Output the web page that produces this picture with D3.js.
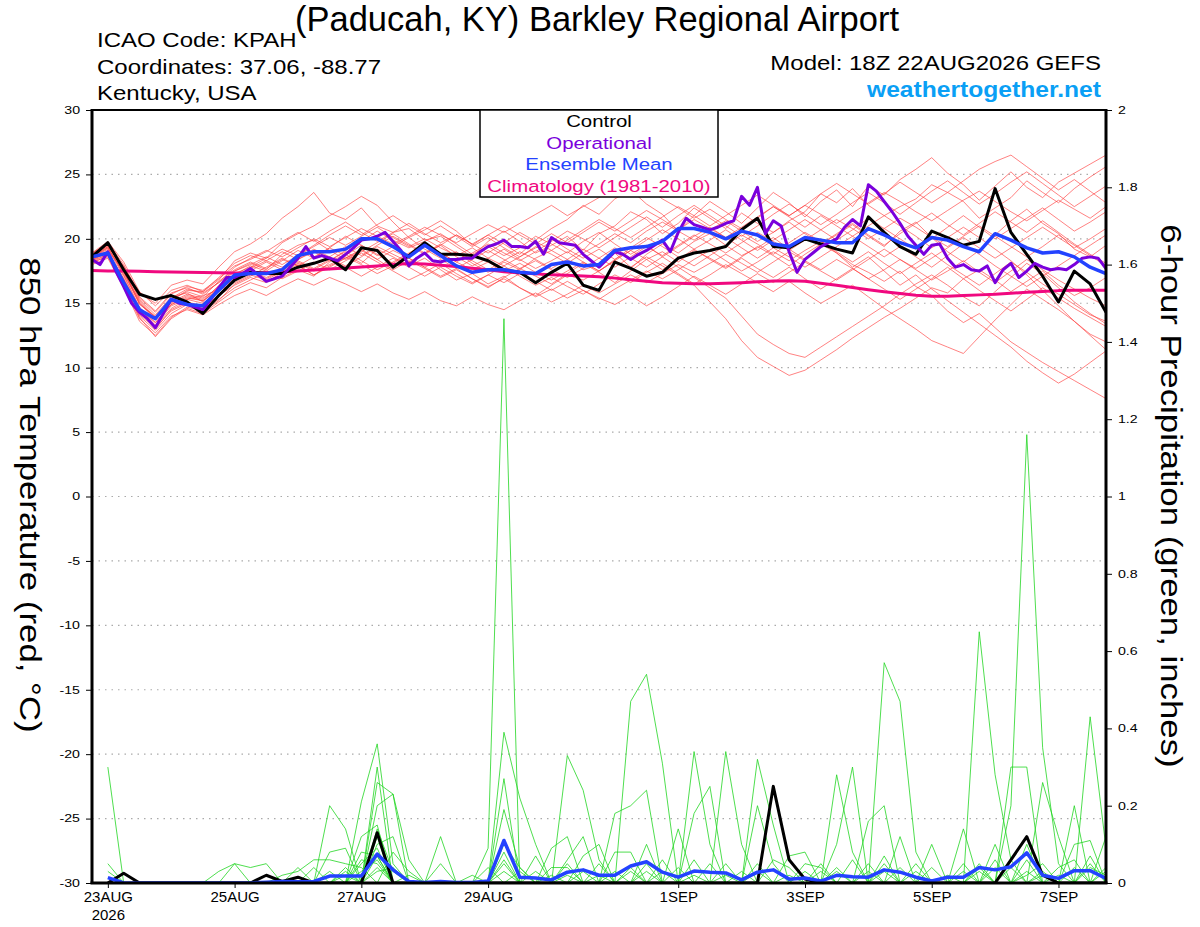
<!DOCTYPE html>
<html lang="en">
<head>
<meta charset="UTF-8">
<title>KPAH GEFS</title>
<script src="https://d3js.org/d3.v7.min.js"></script>
<style>
    body { margin: 0; background: #fff; }
    text { font-family: 'Liberation Sans', Arial, sans-serif; }
</style>
</head>
<body>
<script>

    // 6-hourly steps from 18Z 22AUG2026 (index 0) to 18Z 07SEP2026 (index 64)
    const startUTC = Date.UTC(2026, 7, 22, 18);

    const tickDates  = ['2026-08-23', '2026-08-25', '2026-08-27', '2026-08-29', '2026-09-01', '2026-09-03', '2026-09-05', '2026-09-07'];
    const tickLabels = ['23AUG', '25AUG', '27AUG', '29AUG', '1SEP', '3SEP', '5SEP', '7SEP'];
    const tempTicks  = [-30, -25, -20, -15, -10, -5, 0, 5, 10, 15, 20, 25, 30];
    const precipTicks = [0, 0.2, 0.4, 0.6, 0.8, 1, 1.2, 1.4, 1.6, 1.8, 2];

    const controlTemp = [18.6,19.7,17.6,15.7,15.3,15.6,15.1,14.2,15.6,16.8,17.4,17.3,17.3,17.8,18.1,18.5,17.6,19.3,19.1,17.8,
        18.7,19.7,18.8,18.8,18.7,18.3,17.6,17.4,16.6,17.4,18.1,16.4,16.0,18.2,17.7,17.1,17.4,18.5,18.9,19.1,
        19.4,20.7,21.6,19.4,19.3,20.0,19.6,19.2,18.9,21.7,20.5,19.4,18.8,20.6,20.1,19.5,19.8,23.9,20.5,18.8,
        17.1,15.1,17.5,16.5,14.3];

    const meanTemp = [18.6,18.9,16.6,14.5,13.8,15.3,14.9,14.8,16.0,17.2,17.3,17.3,17.6,18.7,19.0,19.0,19.2,20.0,20.0,19.4,
        18.6,19.5,18.7,17.9,17.4,17.6,17.6,17.4,17.3,18.0,18.2,17.9,18.0,19.1,19.3,19.4,19.8,20.8,20.8,20.5,
        20.0,20.6,20.3,19.6,19.4,20.1,19.9,19.7,19.7,20.8,20.3,19.7,19.3,20.1,19.9,19.4,19.0,20.4,19.9,19.3,
        18.9,19.0,18.6,17.8,17.3];

    const climTemp = [17.55,17.5,17.5,17.48,17.45,17.42,17.4,17.38,17.36,17.35,17.35,17.38,17.42,17.5,17.58,17.66,17.74,17.82,17.9,18.0,
        18.08,18.05,17.95,17.85,17.72,17.6,17.45,17.35,17.28,17.22,17.18,17.12,17.05,16.95,16.82,16.7,16.6,16.55,16.52,16.52,
        16.55,16.6,16.66,16.72,16.75,16.7,16.55,16.4,16.22,16.05,15.9,15.75,15.62,15.55,15.55,15.6,15.65,15.7,15.78,15.85,
        15.92,15.98,16.0,16.0,16.0];

    // operational run is 3-hourly (129 values)
    const operTemp = [18.4,18.0,19.0,17.5,16.3,15.0,14.3,13.8,13.1,14.2,15.3,15.0,14.9,14.7,14.5,15.3,16.2,17.0,17.0,17.3,
        17.7,17.2,16.7,16.9,17.1,17.8,18.5,19.4,18.5,18.7,18.5,18.3,18.8,19.3,19.9,20.0,20.2,20.5,19.8,19.1,
        17.9,18.5,18.9,18.3,18.2,18.4,18.4,18.5,18.5,19.0,19.4,19.6,19.9,19.4,19.4,19.3,19.8,18.8,20.1,19.7,
        19.6,19.5,18.8,18.3,17.8,18.4,19.0,18.8,18.4,18.8,19.1,19.5,19.9,19.0,20.5,21.6,21.1,20.9,20.7,20.9,
        21.2,21.4,23.3,22.6,24.0,20.4,21.4,21.0,19.0,17.4,18.4,18.9,19.4,19.7,20.0,20.9,21.5,21.0,24.2,23.7,
        22.9,22.1,21.2,20.2,19.5,18.8,19.5,19.6,18.5,17.8,18.0,17.6,17.5,17.9,16.6,17.6,18.1,17.0,17.5,18.1,
        17.8,17.6,17.7,17.6,18.0,18.5,18.6,18.5,17.7];

    // precipitation starts at index 1 (null at the analysis time)
    const controlPrecip = [null,0,0.025,0,0,0,0,0,0,0,0,0.02,0.004,0.015,0,0,0,0,0.13,0,
        0,0,0,0,0,0,0,0,0,0,0,0,0,0,0,0,0,0,0,0,
        0,0,0,0.25,0.06,0.01,0,0,0,0,0,0,0,0,0,0,0,0,0.06,0.12,
        0.02,0,0,0,0];

    const meanPrecip = [null,0.014,0,0,0,0,0,0,0,0,0,0.002,0.004,0.003,0.004,0.018,0.018,0.018,0.075,0.034,
        0.004,0.001,0.004,0.001,0.001,0.005,0.11,0.015,0.013,0.008,0.028,0.034,0.02,0.02,0.044,0.055,0.028,0.015,0.031,0.028,
        0.026,0.008,0.028,0.034,0.01,0.013,0.005,0.02,0.016,0.015,0.034,0.028,0.015,0.005,0.015,0.015,0.04,0.034,0.042,0.078,
        0.02,0.012,0.032,0.032,0.012];

    // ensemble members, 850 hPa temperature
    const ensT01 = [18.6,19.4,17.9,15.8,15.0,16.4,16.8,16.5,17.8,19.0,19.6,20.4,21.6,22.5,23.6,22.0,21.5,22.4,21.0,20.5,
        20.8,19.9,20.2,19.4,18.6,19.8,20.6,19.8,18.9,19.5,20.2,19.1,20.4,21.0,22.1,21.5,20.4,21.2,22.4,21.6,
        20.8,22.0,21.2,20.5,21.4,22.1,23.5,22.8,23.9,22.6,21.8,22.5,23.1,24.2,23.6,22.9,21.6,22.4,23.2,24.5,
        23.6,22.8,23.9,24.8,25.6];
    const ensT02 = [18.4,19.1,17.5,14.9,14.0,15.2,16.0,15.9,16.8,18.3,18.9,18.5,19.7,20.4,21.0,21.8,22.5,23.3,22.6,21.3,
        20.1,20.7,21.4,20.6,19.5,20.3,19.6,18.8,19.9,20.8,21.5,22.6,21.9,23.1,23.8,22.7,21.9,20.6,21.8,22.9,
        22.1,21.2,22.4,23.6,22.8,21.7,22.9,23.8,22.5,24.1,23.4,24.6,25.4,26.3,25.1,24.2,23.0,24.1,25.2,24.0,
        23.2,24.4,25.1,25.8,26.5];
    const ensT03 = [18.2,18.8,16.6,13.9,12.4,13.8,14.6,14.2,15.1,16.0,16.6,16.2,17.0,17.6,17.1,18.2,18.8,18.1,19.2,18.6,
        17.9,18.5,17.6,16.8,17.3,16.5,17.1,16.2,15.6,16.4,17.2,16.8,17.5,18.3,17.7,18.8,19.6,18.9,19.8,20.4,
        19.5,18.7,19.3,20.1,19.2,18.4,19.6,20.3,21.1,20.2,19.4,20.6,21.3,20.1,19.0,18.2,19.1,20.3,21.4,22.3,
        21.2,20.4,19.2,18.6,19.5];
    const ensT04 = [18.9,19.6,17.8,15.3,14.1,15.5,15.8,15.1,16.4,17.2,17.9,17.5,18.3,19.1,18.5,19.3,20.2,19.5,18.7,19.4,
        20.1,19.2,18.5,19.0,18.1,17.4,18.2,17.6,18.5,19.1,18.4,17.6,18.0,18.9,17.8,18.6,17.9,17.2,16.4,15.1,
        13.8,12.1,10.8,10.1,9.4,9.8,10.6,11.4,12.3,13.1,13.9,14.6,15.4,16.2,15.8,16.9,17.6,16.8,15.9,16.7,
        17.5,16.4,15.6,16.2,17.0];
    const ensT05 = [18.5,19.2,17.1,14.6,13.3,14.8,15.3,15.0,15.9,17.0,17.5,18.2,17.6,18.4,19.0,18.3,19.1,19.8,20.6,19.9,
        19.3,19.8,20.4,19.6,18.8,19.4,18.7,19.3,20.2,19.6,18.9,19.8,20.5,19.6,18.8,19.5,18.6,17.8,17.0,16.2,
        15.4,14.0,12.6,11.8,11.1,10.8,11.6,12.4,13.2,14.0,14.8,15.7,16.5,17.2,16.4,15.5,14.8,15.9,17.0,18.1,
        17.3,16.2,15.1,14.2,13.4];
    const ensT06 = [18.3,19.0,16.9,14.4,13.0,14.5,15.1,14.8,15.6,16.4,17.0,16.6,17.4,18.0,17.2,17.9,18.5,19.2,18.4,17.6,
        18.3,17.7,17.0,17.6,16.9,16.2,17.0,17.7,17.1,16.5,17.3,18.1,17.4,16.6,17.5,18.4,19.0,18.2,19.1,18.5,
        17.8,18.6,19.4,18.7,17.9,18.8,19.6,18.9,18.0,17.4,16.7,17.5,16.3,15.6,14.4,13.5,14.2,13.1,12.0,11.2,
        10.4,9.7,9.0,8.3,7.6];
    const ensT07 = [18.7,19.5,17.6,15.1,13.8,15.0,15.6,15.3,16.3,17.5,18.1,17.6,18.8,19.5,19.9,19.1,18.4,19.0,19.7,20.4,
        19.6,18.9,19.5,18.6,17.9,18.5,19.2,18.4,17.7,18.3,19.0,18.2,17.5,18.4,19.3,20.1,19.4,18.6,17.9,18.7,
        19.5,20.3,19.6,18.8,19.7,20.5,19.8,18.9,17.8,18.6,17.5,16.4,17.2,16.1,15.2,14.3,13.4,12.5,11.6,10.5,
        9.6,8.8,9.5,10.4,11.3];
    const ensT08 = [18.1,18.7,16.4,14.0,12.9,14.2,14.9,14.6,15.3,16.2,16.8,17.4,16.9,17.5,18.2,17.6,18.3,18.9,18.2,17.5,
        16.8,17.4,18.1,17.3,16.6,17.2,17.9,17.1,16.4,17.0,16.3,15.7,16.5,17.2,16.6,17.4,18.1,17.3,16.5,17.2,
        18.0,17.3,16.6,15.9,16.7,15.8,15.0,15.7,16.4,15.5,14.6,13.8,13.0,12.1,11.6,11.1,12.4,13.7,14.9,16.1,
        15.3,14.5,13.6,12.6,12.0];
    const ensT09 = [18.6,19.3,17.3,15.0,13.7,15.1,15.7,15.4,16.2,17.3,17.8,18.5,19.2,18.7,19.4,20.1,19.5,20.2,20.9,20.1,
        19.4,20.0,19.3,18.7,19.3,18.5,17.9,18.6,19.4,18.8,18.1,18.9,19.6,20.4,19.7,20.6,21.3,20.6,19.9,20.7,
        21.4,20.6,19.8,20.5,21.3,20.4,19.6,20.4,21.2,20.3,19.5,20.4,21.2,22.0,21.1,20.3,21.2,22.1,21.3,20.5,
        21.4,20.5,19.6,18.8,18.1];
    const ensT10 = [18.4,18.9,16.8,14.3,13.2,14.6,15.3,15.6,16.0,16.6,17.2,16.8,17.5,18.1,17.5,18.0,18.6,18.0,17.3,17.9,
        18.5,17.8,17.1,17.7,16.9,16.3,16.9,16.2,15.5,16.1,15.4,16.0,15.3,16.1,16.8,17.5,16.9,17.6,18.4,19.1,
        18.3,17.5,18.2,19.0,18.3,19.1,19.8,19.0,18.2,19.0,18.1,17.3,18.1,18.9,18.0,17.2,16.4,17.3,18.2,17.4,
        16.5,15.7,14.9,14.1,13.6];
    const ensT11 = [18.8,19.7,18.0,15.5,14.4,15.8,16.2,15.7,16.6,17.8,18.5,19.1,18.6,19.3,20.0,19.4,20.1,20.8,20.2,19.6,
        20.2,20.9,20.3,19.7,20.4,21.1,20.5,21.2,21.9,22.6,21.8,22.5,23.2,23.9,23.3,24.0,23.1,22.4,21.6,22.3,
        21.5,20.8,21.6,22.5,21.8,22.6,21.9,21.2,22.0,22.8,23.6,22.9,22.1,21.4,22.2,23.0,23.7,22.9,22.1,21.4,
        22.2,23.0,22.3,21.6,22.5];
    const ensT12 = [18.2,18.6,16.3,13.8,12.7,14.0,14.5,14.1,14.9,15.6,16.1,15.6,16.3,16.9,16.4,17.0,16.5,15.9,16.5,15.8,
        15.3,15.9,15.2,14.8,15.5,14.9,14.5,15.2,15.8,15.1,15.7,16.4,15.8,16.5,17.2,16.6,17.3,18.0,17.4,18.1,
        18.8,18.1,17.4,18.2,19.0,18.3,17.6,18.4,17.7,16.9,17.6,18.4,17.6,16.8,17.5,18.3,17.4,16.6,17.5,18.4,
        17.6,16.8,16.1,15.4,14.8];
    const ensT13 = [18.5,19.3,17.4,15.2,13.9,15.3,15.9,15.5,16.7,17.6,18.2,17.7,18.4,17.9,18.6,19.3,18.7,19.5,18.8,18.1,
        18.8,19.5,18.9,18.2,18.9,19.6,18.9,18.3,19.0,19.8,20.6,20.0,19.3,20.1,20.9,21.7,20.9,21.8,22.6,21.8,
        21.0,20.2,21.0,21.9,22.7,21.9,21.1,21.9,22.8,23.6,22.8,21.9,22.8,23.7,24.5,23.6,22.7,23.5,24.4,25.2,
        24.3,23.4,22.5,23.3,24.1];
    const ensT14 = [18.9,19.8,18.2,15.9,14.8,16.0,16.4,15.9,17.0,18.1,18.7,18.3,19.0,18.4,19.1,18.5,17.9,18.6,19.4,18.8,
        18.2,18.9,19.6,18.9,18.3,17.6,18.3,19.0,18.4,17.7,18.4,19.2,18.5,17.8,18.6,19.4,18.7,19.5,20.3,19.6,
        18.9,19.7,20.5,19.8,19.1,19.9,20.7,21.5,20.8,20.0,20.8,21.6,20.9,20.1,19.4,20.2,21.0,20.2,19.4,18.6,
        19.4,20.3,19.5,18.7,17.9];
    const ensT15 = [18.7,19.5,17.7,15.4,14.3,15.7,16.3,16.0,16.9,17.9,18.4,19.0,19.8,20.5,19.8,20.6,21.3,20.5,19.8,20.5,
        21.2,20.4,19.7,20.3,19.6,20.3,21.0,20.3,19.6,20.4,19.7,20.5,21.3,20.6,21.4,22.2,21.5,20.7,21.5,20.8,
        20.1,20.9,21.7,22.5,21.7,20.9,21.8,21.0,20.2,21.0,21.8,21.0,20.2,19.3,20.1,20.9,20.1,19.2,18.3,17.2,
        16.0,14.8,13.6,12.5,11.4];
    const ensT16 = [18.3,18.8,16.5,14.1,13.1,14.4,15.0,14.7,15.5,16.8,17.4,16.9,17.6,18.3,17.7,18.4,17.8,17.1,17.8,18.5,
        17.8,17.1,17.8,17.1,16.5,17.2,16.6,17.3,16.7,16.0,16.7,16.0,15.4,14.9,15.6,14.8,15.5,16.3,17.1,16.4,
        15.7,16.5,17.3,16.6,17.4,18.2,17.5,16.8,17.6,18.4,19.2,18.4,17.7,18.5,19.3,20.1,19.3,18.5,19.3,20.1,
        20.9,20.1,19.3,20.0,20.8];
    const ensT17 = [18.6,19.4,17.2,14.7,13.5,14.9,15.5,15.2,16.1,17.1,17.7,18.3,17.8,18.5,19.2,18.6,19.4,18.7,19.5,20.2,
        19.5,18.8,19.5,20.3,19.6,18.9,19.7,20.5,19.8,19.1,19.9,20.7,21.5,20.8,20.1,20.9,21.7,22.5,21.8,21.0,
        21.8,22.6,23.4,22.6,21.8,22.6,23.5,24.3,23.5,22.7,23.5,24.4,23.6,22.8,23.6,24.5,25.4,26.0,26.5,25.6,
        24.7,23.8,24.6,23.7,22.8];
    const ensT18 = [18.0,18.5,16.2,13.6,12.5,13.9,14.7,14.4,15.2,16.5,17.1,17.8,18.5,17.9,17.2,17.8,18.5,19.1,18.4,19.1,
        18.5,17.8,18.4,17.7,18.4,19.1,18.4,17.7,18.3,17.6,17.0,17.7,18.5,19.3,18.5,17.8,18.6,19.4,20.2,20.9,
        20.1,19.3,18.5,19.3,18.6,17.8,18.6,19.4,20.2,19.4,18.6,19.4,18.6,17.8,18.7,19.6,18.8,17.9,17.1,16.3,
        17.1,17.9,18.7,19.5,20.3];
    const ensT19 = [18.8,19.6,17.5,15.0,13.9,15.4,16.1,15.8,16.6,17.5,18.0,18.6,18.0,18.7,19.5,20.3,21.0,20.3,21.1,21.8,
        21.0,20.3,21.0,20.2,19.4,20.1,19.3,18.6,19.3,20.0,19.2,18.5,19.2,18.4,19.1,19.9,20.7,20.0,19.2,19.9,
        20.7,19.9,19.1,19.9,20.7,21.5,20.7,19.9,20.7,21.6,20.8,20.0,19.2,20.0,20.9,21.8,20.9,20.0,20.8,21.6,
        22.4,21.5,20.6,21.3,22.1];
    const ensT20 = [18.4,19.0,16.9,14.5,13.5,14.9,15.4,15.2,16.0,16.9,17.5,17.0,17.6,18.2,17.6,18.3,19.0,18.3,17.6,18.2,
        18.9,19.6,18.9,18.2,17.6,18.2,17.5,18.1,17.4,16.8,17.5,18.2,17.5,18.3,19.1,18.4,17.6,18.4,19.2,18.4,
        17.7,18.5,17.7,17.0,17.8,16.9,16.1,16.9,17.7,16.9,16.1,15.3,16.1,16.9,17.8,16.9,16.0,15.2,14.4,15.3,
        16.2,15.4,14.6,13.9,13.2];

    // ensemble members, 6-hour precipitation: [step index, inches]; other steps are 0
    const ensP01 = [[1,0.30],[18,0.07],[25,0.09],[26,1.46],[30,0.05],[35,0.10],[47,0.04],[56,0.05],[63,0.07]];
    const ensP02 = [[1,0.03],[17,0.21],[18,0.36],[19,0.05],[26,0.05],[34,0.47],[35,0.54],[36,0.31],[42,0.05],[50,0.07],[59,0.10]];
    const ensP03 = [[15,0.20],[16,0.14],[18,0.30],[26,0.39],[27,0.22],[28,0.10],[38,0.34],[39,0.10],[56,0.65],[57,0.28],[58,0.06]];
    const ensP04 = [[18,0.26],[19,0.23],[20,0.06],[26,0.27],[30,0.33],[31,0.24],[32,0.06],[47,0.10],[48,0.30],[58,0.20],[59,1.16],[60,0.35],[61,0.05]];
    const ensP05 = [[18,0.20],[19,0.23],[22,0.12],[26,0.19],[27,0.04],[40,0.34],[41,0.10],[50,0.57],[51,0.47],[52,0.08],[63,0.43],[64,0.09]];
    const ensP06 = [[17,0.12],[18,0.15],[26,0.08],[33,0.18],[34,0.20],[35,0.24],[42,0.32],[43,0.15],[47,0.28],[48,0.08],[62,0.20]];
    const ensP07 = [[15,0.08],[16,0.09],[18,0.12],[25,0.04],[29,0.09],[30,0.12],[38,0.18],[39,0.25],[53,0.10],[55,0.14],[60,0.26],[61,0.12]];
    const ensP08 = [[18,0.10],[19,0.12],[22,0.05],[30,0.06],[31,0.12],[42,0.20],[43,0.05],[49,0.16],[50,0.20],[58,0.30],[59,0.30],[64,0.12]];
    const ensP09 = [[8,0.03],[9,0.05],[10,0.04],[11,0.05],[17,0.08],[18,0.07],[28,0.07],[33,0.08],[34,0.08],[37,0.14],[44,0.07],[45,0.08],[51,0.12],[62,0.10],[63,0.11]];
    const ensP10 = [[9,0.05],[12,0.02],[13,0.03],[14,0.06],[15,0.06],[16,0.05],[17,0.04],[19,0.08],[20,0.03],[31,0.07],[32,0.10],[36,0.06],[46,0.05],[49,0.05],[57,0.10],[59,0.02],[60,0.05]];
    const ensP11 = [[14,0.04],[17,0.05],[18,0.09],[26,0.10],[27,0.04],[32,0.05],[35,0.03],[38,0.06],[40,0.05],[45,0.05],[46,0.04],[52,0.05],[55,0.05],[57,0.04],[63,0.04],[64,0.02]];
    const ensP12 = [[1,0.05],[16,0.04],[18,0.14],[19,0.03],[29,0.04],[30,0.04],[41,0.03],[43,0.06],[44,0.04],[48,0.06],[53,0.04],[56,0.03],[61,0.04],[62,0.06]];
    const ensP13 = [[15,0.03],[17,0.06],[18,0.05],[24,0.02],[26,0.06],[31,0.03],[34,0.04],[36,0.03],[39,0.05],[47,0.03],[50,0.05],[54,0.02],[58,0.04],[60,0.03]];
    const ensP14 = [[11,0.02],[13,0.04],[16,0.03],[18,0.04],[27,0.03],[29,0.02],[33,0.03],[37,0.04],[42,0.03],[44,0.02],[51,0.04],[55,0.03],[59,0.06],[62,0.04],[64,0.03]];
    const ensP15 = [[17,0.03],[18,0.06],[20,0.02],[26,0.03],[30,0.02],[35,0.05],[38,0.02],[45,0.03],[49,0.03],[52,0.03],[57,0.06],[60,0.02],[63,0.05]];
    const ensP16 = [[16,0.02],[18,0.03],[19,0.04],[28,0.03],[32,0.02],[34,0.03],[40,0.02],[46,0.03],[50,0.03],[56,0.04],[59,0.03],[61,0.02],[64,0.04]];

    const tempMembers = [ensT01, ensT02, ensT03, ensT04, ensT05, ensT06, ensT07, ensT08, ensT09, ensT10,
                         ensT11, ensT12, ensT13, ensT14, ensT15, ensT16, ensT17, ensT18, ensT19, ensT20];
    const precipMembers = [ensP01, ensP02, ensP03, ensP04, ensP05, ensP06, ensP07, ensP08,
                           ensP09, ensP10, ensP11, ensP12, ensP13, ensP14, ensP15, ensP16]
        .map(pairs => {
            const s = controlPrecip.map(v => v === null ? null : 0);
            pairs.forEach(([i, v]) => s[i] = v);
            return s;
        });

    const width  = 1200;
    const height = 927;
    const pL = 92, pR = 1106, pT = 110, pB = 883;
    const hour = 3600 * 1000;

    const x = d3.scaleUtc()
        .domain([new Date(startUTC), new Date(startUTC + 64 * 6 * hour)])
        .range([pL, pR]);
    const yT = d3.scaleLinear().domain([-30, 30]).range([pB, pT]);
    const yP = d3.scaleLinear().domain([0, 2]).range([pB, pT]);

    const svg = d3.select("body").append("svg")
        .attr("width", width)
        .attr("height", height)
        .style("background", "#fff");

    svg.append("clipPath").attr("id", "plot")
        .append("rect").attr("x", pL).attr("y", pT)
        .attr("width", pR - pL).attr("height", pB - pT);

    // text drawn slightly wider than the font, like the original plot
    function label(str, px, py, size, anchor, fill, sx, extra) {
        return svg.append("text")
            .attr("transform", "translate(" + px + "," + py + ")" + (extra || "") + " scale(" + sx + ",1)")
            .attr("text-anchor", anchor)
            .style("font-size", size + "px")
            .style("fill", fill)
            .text(str);
    }

    // dotted grid at the temperature ticks
    svg.append("g").selectAll("line")
        .data(tempTicks.filter(d => d > -30 && d < 30))
        .enter().append("line")
        .attr("x1", pL).attr("x2", pR)
        .attr("y1", d => yT(d)).attr("y2", d => yT(d))
        .attr("stroke", "#aaa")
        .attr("stroke-width", 1.2)
        .attr("stroke-dasharray", "1.5,5");

    const step6 = (d, i) => x(new Date(startUTC + i * 6 * hour));
    const step3 = (d, i) => x(new Date(startUTC + i * 3 * hour));

    const lineT  = d3.line().x(step6).y(d => yT(d));
    const lineP  = d3.line().defined(d => d !== null).x(step6).y(d => yP(d));
    const lineT3 = d3.line().x(step3).y(d => yT(d));

    const plot = svg.append("g").attr("clip-path", "url(#plot)");

    plot.append("g").selectAll("path")
        .data(tempMembers).enter().append("path")
        .attr("d", lineT)
        .attr("fill", "none")
        .attr("stroke", "#ff3b3b")
        .attr("stroke-opacity", 0.8)
        .attr("stroke-width", 0.8);

    plot.append("g").selectAll("path")
        .data(precipMembers).enter().append("path")
        .attr("d", lineP)
        .attr("fill", "none")
        .attr("stroke", "#22d622")
        .attr("stroke-width", 0.8);

    const bold = [
        [lineT(climTemp),      "#f0087f", 3],
        [lineT(controlTemp),   "#000",    3],
        [lineP(controlPrecip), "#000",    3],
        [lineT3(operTemp),     "#7a00dc", 3],
        [lineT(meanTemp),      "#2342ff", 3.5],
        [lineP(meanPrecip),    "#2342ff", 3.5]
    ];
    plot.append("g").selectAll("path")
        .data(bold).enter().append("path")
        .attr("d", d => d[0])
        .attr("fill", "none")
        .attr("stroke", d => d[1])
        .attr("stroke-width", d => d[2])
        .attr("stroke-linejoin", "round");

    // axes
    const axL = svg.append("g").attr("transform", "translate(" + pL + ",0)")
        .call(d3.axisLeft(yT).tickValues(tempTicks).tickSize(6).tickPadding(6).tickFormat(d => String(d)));
    const axR = svg.append("g").attr("transform", "translate(" + pR + ",0)")
        .call(d3.axisRight(yP).tickValues(precipTicks).tickSize(6).tickPadding(6).tickFormat(d => String(+d.toFixed(1))));
    const axB = svg.append("g").attr("transform", "translate(0," + pB + ")")
        .call(d3.axisBottom(x).tickValues(tickDates.map(d => new Date(d + "T00:00:00Z")))
            .tickSize(5).tickPadding(6).tickFormat((d, i) => tickLabels[i]));

    [axL, axR, axB].forEach(a => {
        a.select(".domain").remove();
        a.selectAll(".tick line").attr("stroke", "#000").attr("stroke-width", 1);
        a.selectAll("text").style("font-family", "'Liberation Sans', Arial, sans-serif").attr("fill", "#000");
    });
    [axL, axR].forEach(a => {
        a.selectAll(".tick text")
            .style("font-size", "10.5px")
            .attr("transform", "scale(1.35,1)")
            .attr("x", function () { return +d3.select(this).attr("x") / 1.35; });
    });
    axB.selectAll(".tick text").style("font-size", "15px").attr("y", 10).attr("dy", "0.6em");
    axB.select(".tick text").append("tspan").attr("x", 0).attr("dy", "1.2em").text("2026");

    // frame
    svg.append("line").attr("x1", pL).attr("x2", pR).attr("y1", pT).attr("y2", pT)
        .attr("stroke", "#000").attr("stroke-width", 2);
    svg.append("line").attr("x1", pL - 1.5).attr("x2", pR + 1.5).attr("y1", pB).attr("y2", pB)
        .attr("stroke", "#000").attr("stroke-width", 3);
    svg.append("line").attr("x1", pL).attr("x2", pL).attr("y1", pT - 1).attr("y2", pB)
        .attr("stroke", "#000").attr("stroke-width", 3);
    svg.append("line").attr("x1", pR).attr("x2", pR).attr("y1", pT - 1).attr("y2", pB)
        .attr("stroke", "#000").attr("stroke-width", 3);

    // legend box
    svg.append("rect").attr("x", 480).attr("y", pT).attr("width", 238).attr("height", 87)
        .attr("fill", "#fff").attr("stroke", "#000").attr("stroke-width", 1.5);
    const legendItems  = ["Control", "Operational", "Ensemble Mean", "Climatology (1981-2010)"];
    const legendColors = ["#000", "#7a00dc", "#2342ff", "#f0087f"];
    legendItems.forEach((t, i) => label(t, 599, 127 + i * 21.5, 17, "middle", legendColors[i], 1.2));

    // titles
    label("(Paducah, KY) Barkley Regional Airport", 597, 31, 34.5, "middle", "#000", 1.0);
    label("ICAO Code: KPAH", 97, 47, 20, "start", "#000", 1.2);
    label("Coordinates: 37.06, -88.77", 97, 74, 20, "start", "#000", 1.2);
    label("Kentucky, USA", 97, 100, 20, "start", "#000", 1.2);
    label("Model: 18Z 22AUG2026 GEFS", 1101, 70, 20, "end", "#000", 1.2);
    label("weathertogether.net", 1101, 97, 22, "end", "#0a9ff5", 1.12).style("font-weight", "bold");

    label("850 hPa Temperature (red, \u00B0C)", 20, 495, 29, "middle", "#000", 1.2, " rotate(90)");
    label("6-hour Precipitation (green, inches)", 1161, 496, 29, "middle", "#000", 1.2, " rotate(90)");

</script>
</body>
</html>
